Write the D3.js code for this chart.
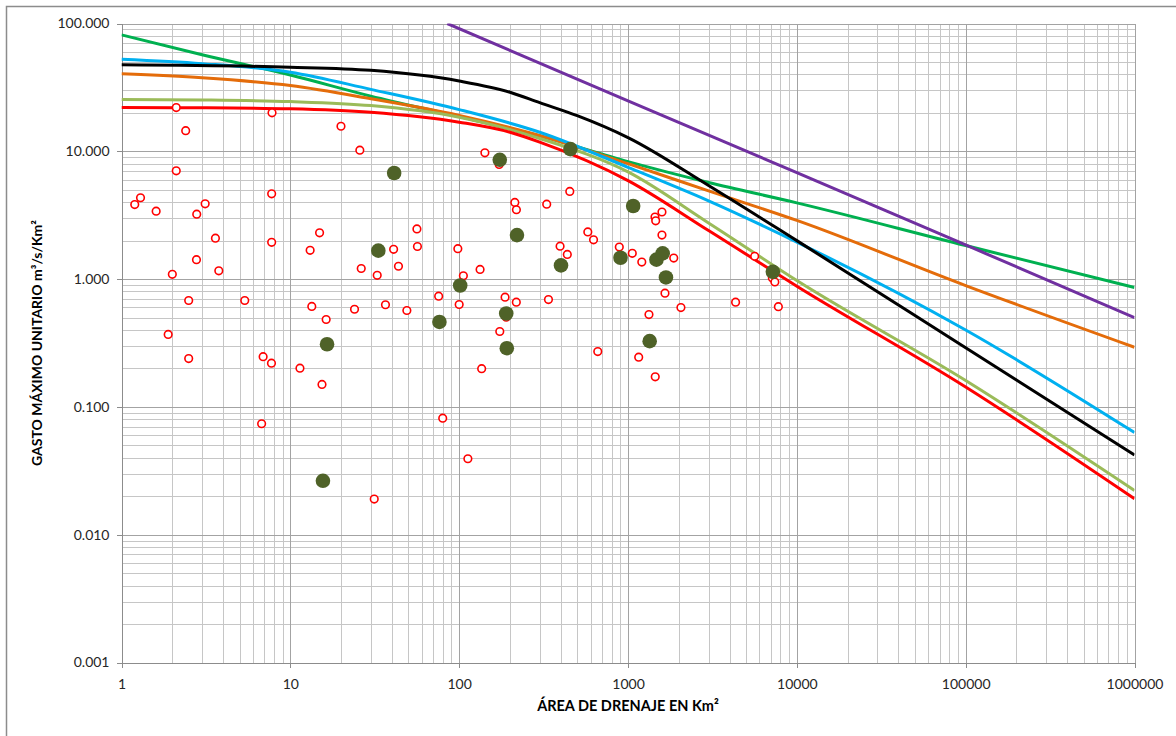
<!DOCTYPE html>
<html>
<head>
<meta charset="utf-8">
<script src="https://cdn.jsdelivr.net/npm/d3@7"></script>
<style>
  html, body { margin: 0; padding: 0; background: #fff; }
  svg { display: block; font-family: Lato, "Open Sans", sans-serif; }
</style>
</head>
<body>
<svg id="chart" width="1176" height="736"></svg>
<script>
// Axis ticks
const areaTicks = [1, 10, 100, 1000, 10000, 100000, 1000000];
const areaTickLabels = ["1", "10", "100", "1000", "10000", "100000", "1000000"];
const gastoTicks = [100, 10, 1, 0.1, 0.01, 0.001];
const gastoTickLabels = ["100.000", "10.000", "1.000", "0.100", "0.010", "0.001"];

// Envelope curves: [area km², unit discharge m³/s/km²]
const curvaMorada = [[85, 100], [1000, 24.8], [10000, 6.8], [100000, 1.85], [1000000, 0.50]];
const curvaVerde = [[1, 81.5], [3, 57], [10, 39.5], [30, 27], [100, 18.7], [300, 13.2], [1000, 8.3], [3000, 5.7], [10000, 3.95], [100000, 1.83], [1000000, 0.86]];
const curvaNaranja = [[1, 40.4], [3, 37.6], [10, 32.7], [30, 25.8], [100, 19.1], [300, 13.3], [1000, 8.0], [3000, 4.9], [10000, 2.88], [100000, 0.89], [1000000, 0.293]];
const curvaCeleste = [[1, 52.5], [3, 48.5], [10, 41.6], [30, 30.5], [100, 21.2], [300, 14.1], [1000, 7.5], [3000, 4.1], [10000, 1.95], [100000, 0.40], [1000000, 0.063]];
const curvaNegra = [[1, 47.5], [10, 45.5], [30, 43], [100, 35.5], [200, 29], [300, 24], [500, 19], [1000, 12.8], [3000, 5.4], [10000, 2.0], [100000, 0.29], [1000000, 0.042]];
const curvaVerdeClaro = [[1, 25.4], [3, 25.2], [10, 24.5], [30, 22.8], [100, 18.5], [300, 12.6], [1000, 6.9], [3000, 2.75], [10000, 0.975], [100000, 0.161], [1000000, 0.0222]];
const curvaRoja = [[1, 22.0], [3, 21.9], [10, 21.5], [30, 20.2], [100, 16.9], [200, 14.1], [300, 11.8], [1000, 5.9], [3000, 2.4], [10000, 0.88], [100000, 0.143], [1000000, 0.0191]];

// Recorded maxima (open circles)
const registrosArea = [2.11, 2.40, 7.79, 19.95, 25.8, 2.11, 7.75, 1.296, 1.198, 1.604, 3.13, 2.79, 3.60, 7.75, 14.9, 13.1, 2.0, 2.78, 3.77, 2.50, 5.37, 1.89, 2.50, 6.90, 7.73, 11.4, 15.4, 13.4, 16.3, 24.0, 26.3, 32.7, 36.6, 40.9, 43.7, 49.0, 56.2, 56.6, 75.6, 98.2, 100, 105.9, 133, 135.9, 79.9, 112.6, 31.4, 6.76, 142, 172.5, 452, 213.6, 218.3, 330, 396, 437, 578, 625, 187, 218, 338, 190, 174, 662, 888, 1060, 1207, 1445, 1459, 1589, 1589, 1866, 1656, 2058, 1331, 1157, 1450, 4338, 5627, 7161, 7410, 7773];
const registrosGasto = [22.0, 14.5, 20.0, 15.7, 10.2, 7.04, 4.65, 4.33, 3.83, 3.40, 3.88, 3.22, 2.09, 1.94, 2.30, 1.68, 1.09, 1.42, 1.16, 0.68, 0.68, 0.369, 0.239, 0.247, 0.220, 0.201, 0.150, 0.611, 0.483, 0.581, 1.21, 1.07, 0.630, 1.71, 1.26, 0.568, 2.47, 1.80, 0.735, 1.73, 0.633, 1.06, 1.19, 0.199, 0.0816, 0.0393, 0.0190, 0.0738, 9.73, 7.88, 4.85, 3.98, 3.49, 3.86, 1.81, 1.56, 2.34, 2.03, 0.722, 0.660, 0.692, 0.503, 0.389, 0.271, 1.78, 1.59, 1.36, 3.06, 2.86, 3.35, 2.21, 1.46, 0.776, 0.599, 0.528, 0.245, 0.172, 0.660, 1.51, 1.02, 0.949, 0.608];

// Selected stations (filled circles)
const estacionesArea = [41.2, 33.2, 101.4, 76.4, 16.5, 15.6, 174, 456, 220, 190, 191.5, 401, 903, 1073, 1474, 1604, 1678, 1344, 7211];
const estacionesGasto = [6.76, 1.67, 0.891, 0.462, 0.309, 0.0264, 8.58, 10.4, 2.21, 0.538, 0.288, 1.28, 1.47, 3.73, 1.42, 1.59, 1.03, 0.327, 1.14];

const svg = d3.select("#chart");
const W = 1176, H = 736;
const plot = { left: 121.5, right: 1134.5, top: 23.5, bottom: 662.5 };

svg.append("rect").attr("width", W).attr("height", H).attr("fill", "#fff");
// chart frame
svg.append("rect")
  .attr("x", 6.5).attr("y", 6.5).attr("width", W + 20).attr("height", H + 20)
  .attr("fill", "none").attr("stroke", "#8c8c8c").attr("stroke-width", 1.5);

const x = d3.scaleLog().domain([1, 1000000]).range([plot.left, plot.right]);
const y = d3.scaleLog().domain([0.001, 100]).range([plot.bottom, plot.top]);

// grid
const minorX = [], minorY = [];
for (let e = 0; e < 6; e++) for (let m = 2; m <= 9; m++) minorX.push(m * Math.pow(10, e));
for (let e = -3; e < 2; e++) for (let m = 2; m <= 9; m++) minorY.push(m * Math.pow(10, e));

const grid = svg.append("g").attr("shape-rendering", "crispEdges");
grid.selectAll(".vmin").data(minorX).join("line")
  .attr("x1", d => Math.round(x(d)) + 0.5).attr("x2", d => Math.round(x(d)) + 0.5)
  .attr("y1", plot.top).attr("y2", plot.bottom)
  .attr("stroke", "#c6c6c6").attr("stroke-width", 1);
grid.selectAll(".hmin").data(minorY).join("line")
  .attr("y1", d => Math.round(y(d)) + 0.5).attr("y2", d => Math.round(y(d)) + 0.5)
  .attr("x1", plot.left).attr("x2", plot.right)
  .attr("stroke", "#c6c6c6").attr("stroke-width", 1);
grid.selectAll(".vmaj").data(areaTicks).join("line")
  .attr("x1", d => Math.round(x(d)) + 0.5).attr("x2", d => Math.round(x(d)) + 0.5)
  .attr("y1", plot.top).attr("y2", plot.bottom)
  .attr("stroke", "#a3a3a3").attr("stroke-width", 1);
grid.selectAll(".hmaj").data(gastoTicks).join("line")
  .attr("y1", d => Math.round(y(d)) + 0.5).attr("y2", d => Math.round(y(d)) + 0.5)
  .attr("x1", plot.left).attr("x2", plot.right)
  .attr("stroke", "#a3a3a3").attr("stroke-width", 1);

// axes
const xAxis = d3.axisBottom(x).tickValues(areaTicks)
  .tickFormat((d, i) => areaTickLabels[i]).tickSize(5).tickPadding(12);
const yAxis = d3.axisLeft(y).tickValues(gastoTicks)
  .tickFormat((d, i) => gastoTickLabels[i]).tickSize(5).tickPadding(7);

const gx = svg.append("g").attr("transform", `translate(0,${plot.bottom})`).call(xAxis);
const gy = svg.append("g").attr("transform", `translate(${plot.left},0)`).call(yAxis);
[gx, gy].forEach(g => {
  g.select(".domain").attr("stroke", "#8c8c8c").attr("shape-rendering", "crispEdges");
  g.selectAll(".tick line").attr("stroke", "#8c8c8c").attr("shape-rendering", "crispEdges");
  g.selectAll(".tick text").attr("fill", "#262626").style("font-size", "14px")
    .style("font-family", "Lato, 'Open Sans', sans-serif");
});

// curves
const clip = svg.append("clipPath").attr("id", "plotClip").append("rect")
  .attr("x", plot.left).attr("y", plot.top)
  .attr("width", plot.right - plot.left).attr("height", plot.bottom - plot.top);

const suave = d3.line().x(d => x(d[0])).y(d => y(d[1])).curve(d3.curveMonotoneX);
const recta = d3.line().x(d => x(d[0])).y(d => y(d[1]));

const curves = svg.append("g").attr("clip-path", "url(#plotClip)")
  .attr("fill", "none").attr("stroke-width", 3).attr("stroke-linejoin", "round");

curves.append("path").datum(curvaVerde).attr("d", suave).attr("stroke", "#00B050");
curves.append("path").datum(curvaNaranja).attr("d", suave).attr("stroke", "#E46C0A");
curves.append("path").datum(curvaCeleste).attr("d", suave).attr("stroke", "#00B0F0");
curves.append("path").datum(curvaNegra).attr("d", suave).attr("stroke", "#000000");
curves.append("path").datum(curvaMorada).attr("d", recta).attr("stroke", "#7030A0");
curves.append("path").datum(curvaVerdeClaro).attr("d", suave).attr("stroke", "#9BBB59");
curves.append("path").datum(curvaRoja).attr("d", suave).attr("stroke", "#FF0000");

// points
const registros = registrosArea.map((a, i) => [a, registrosGasto[i]]);
const estaciones = estacionesArea.map((a, i) => [a, estacionesGasto[i]]);

svg.append("g").selectAll("circle").data(registros).join("circle")
  .attr("cx", d => x(d[0])).attr("cy", d => y(d[1])).attr("r", 3.8)
  .attr("fill", "#fff").attr("stroke", "#FF0000").attr("stroke-width", 1.6);

svg.append("g").selectAll("circle").data(estaciones).join("circle")
  .attr("cx", d => x(d[0])).attr("cy", d => y(d[1])).attr("r", 7.3)
  .attr("fill", "#4F6228");

// axis titles
svg.append("text")
  .attr("x", (plot.left + plot.right) / 2).attr("y", 711)
  .attr("text-anchor", "middle").attr("font-weight", "bold").attr("font-size", 14.5)
  .attr("fill", "#000").text("ÁREA DE DRENAJE EN Km²");

svg.append("text")
  .attr("transform", `translate(42,${(plot.top + plot.bottom) / 2}) rotate(-90)`)
  .attr("text-anchor", "middle").attr("font-weight", "bold").attr("font-size", 14)
  .attr("fill", "#000").text("GASTO MÁXIMO UNITARIO m³/s/Km²");
</script>
</body>
</html>
